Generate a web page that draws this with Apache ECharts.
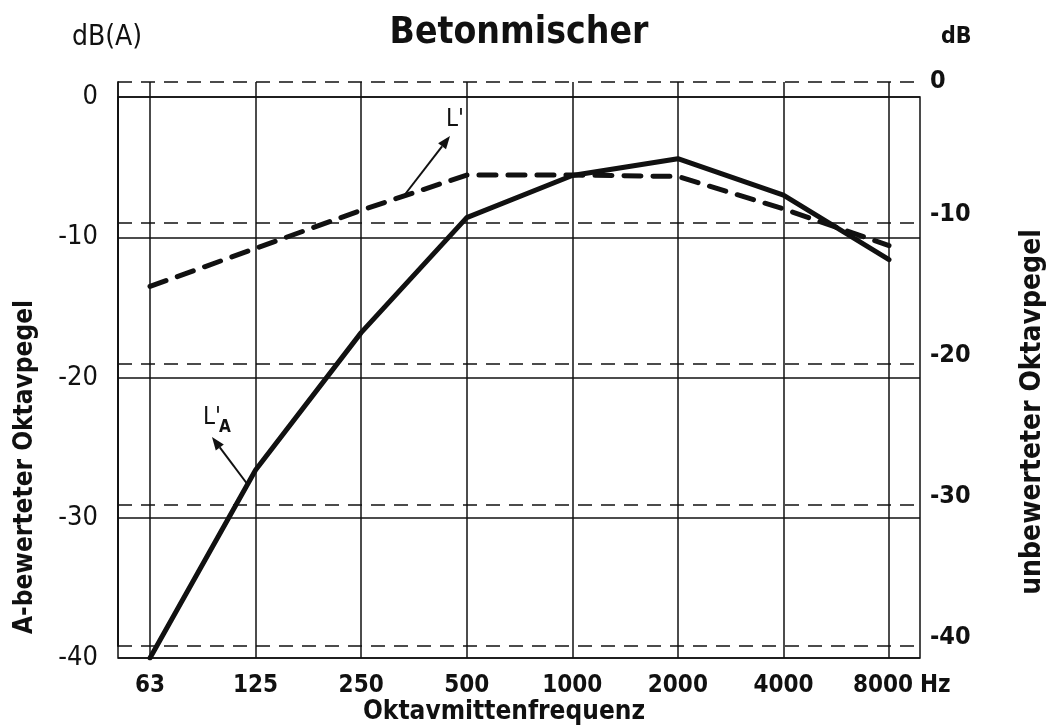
<!DOCTYPE html>
<html>
<head>
<meta charset="utf-8">
<script src="https://cdn.jsdelivr.net/npm/echarts@6/dist/echarts.min.js"></script>
<style>
  html, body { margin: 0; padding: 0; background: #fff; }
  #chart { width: 1059px; height: 728px; }
</style>
</head>
<body>
<div id="chart"></div>
<script>
// Oktavmittenfrequenz (Hz)
const categories = ['63', '125', '250', '500', '1000', '2000', '4000', '8000']
// L'A, A-bewerteter Oktavpegel, dB(A) (linke Achse)
const laValues = [-40, -26.6, -16.8, -8.6, -5.6, -4.4, -7.0, -11.6]
// L', unbewerteter Oktavpegel, dB (rechte Achse)
const lValues = [-14.5, -11.8, -9.1, -6.6, -6.6, -6.7, -9.0, -11.6]

const FONT = "'DejaVu Sans Condensed', 'Liberation Sans Narrow', 'DejaVu Sans', sans-serif"
const INK = '#111'

const chart = echarts.init(document.getElementById('chart'))

// Rahmen / Skalen
const FRAME_L = 118, FRAME_R = 139          // Rahmen links/rechts
const CAT_L = 150, CAT_R = 170              // erste / letzte Frequenz
const LEFT_TOP = 97, LEFT_BOTTOM = 70       // dB(A): 0 .. -40
const RIGHT_TOP = 82, RIGHT_BOTTOM = 82     // dB: 0 .. -40

const hiddenCat = (grid) => ({
  type: 'category', gridIndex: grid, data: categories, boundaryGap: false,
  axisLine: { show: false }, axisTick: { show: false }, axisLabel: { show: false },
  splitLine: { show: false }
})
const hiddenVal = (grid) => ({
  type: 'value', gridIndex: grid, min: 0, max: 1, show: false
})

// Pfeil als Linie + Spitze
const arrow = (x1, y1, x2, y2) => {
  const a = Math.atan2(y2 - y1, x2 - x1)
  const len = 13, w = 5
  const bx = x2 - len * Math.cos(a), by = y2 - len * Math.sin(a)
  const px = -Math.sin(a) * w, py = Math.cos(a) * w
  return [
    { type: 'line', shape: { x1, y1, x2: bx, y2: by }, style: { stroke: INK, lineWidth: 2 } },
    { type: 'polygon', shape: { points: [[x2, y2], [bx + px, by + py], [bx - px, by - py]] }, style: { fill: INK } }
  ]
}

const txt = (x, y, text, size, bold, extra) => Object.assign({
  type: 'text', x, y,
  style: { text, fontSize: size, fontWeight: bold ? 'bold' : 'normal', fontFamily: FONT, fill: INK, textAlign: 'left', textVerticalAlign: 'middle' }
}, extra || {})

const option = {
  animation: false,
  backgroundColor: '#fff',
  textStyle: { fontFamily: FONT, color: INK },
  grid: [
    // 0: linke Skala, durchgezogene Linien
    { left: FRAME_L, right: FRAME_R, top: LEFT_TOP, bottom: LEFT_BOTTOM, show: true, borderColor: INK, borderWidth: 1.5, outerBoundsMode: 'none' },
    // 1: rechte Skala, gestrichelte Linien
    { left: FRAME_L, right: FRAME_R, top: RIGHT_TOP, bottom: RIGHT_BOTTOM, outerBoundsMode: 'none' },
    // 2: senkrechte Linien + Frequenzbeschriftung
    { left: CAT_L, right: CAT_R, top: RIGHT_TOP, bottom: LEFT_BOTTOM, outerBoundsMode: 'none' },
    // 3: L'A auf linker Skala
    { left: CAT_L, right: CAT_R, top: LEFT_TOP, bottom: LEFT_BOTTOM, outerBoundsMode: 'none' },
    // 4: L' auf rechter Skala
    { left: CAT_L, right: CAT_R, top: RIGHT_TOP, bottom: RIGHT_BOTTOM, outerBoundsMode: 'none' }
  ],
  xAxis: [
    hiddenVal(0),
    hiddenVal(1),
    {
      type: 'category', gridIndex: 2, data: categories, boundaryGap: false,
      axisLine: { show: false }, axisTick: { show: false },
      axisLabel: {
        show: true, margin: 16, fontSize: 24, fontWeight: 'bold', color: INK, fontFamily: FONT, interval: 0,
        // letzte Beschriftung etwas nach links, Platz für "Hz"
        formatter: (v) => v === '8000' ? '{l|' + v + '}' : v,
        rich: { l: { fontSize: 24, fontWeight: 'bold', fontFamily: FONT, color: INK, padding: [0, 12, 0, 0] } }
      },
      splitLine: { show: true, lineStyle: { color: INK, width: 1.5, type: 'solid' } }
    },
    hiddenCat(3),
    hiddenCat(4)
  ],
  yAxis: [
    {
      type: 'value', gridIndex: 0, position: 'left', min: -40, max: 0, interval: 10,
      axisLine: { show: false }, axisTick: { show: false },
      axisLabel: { margin: 20, fontSize: 27, color: INK, fontFamily: FONT, formatter: v => String(v) },
      splitLine: { show: true, lineStyle: { color: INK, width: 1.5, type: 'solid' } }
    },
    {
      type: 'value', gridIndex: 1, position: 'right', min: -40, max: 0, interval: 10,
      axisLine: { show: true, lineStyle: { color: INK, width: 1.5 } }, axisTick: { show: false },
      axisLabel: {
        margin: 10, fontSize: 25, fontWeight: 'bold', color: INK, fontFamily: FONT,
        verticalAlign: 'bottom', lineHeight: 18,
        // "0" sitzt mittig auf der Linie, die übrigen Werte etwas darüber
        formatter: v => v === 0 ? '{z|0}' : String(v),
        rich: { z: { fontSize: 25, fontWeight: 'bold', fontFamily: FONT, color: INK, lineHeight: 2 } }
      },
      splitLine: { show: true, lineStyle: { color: INK, width: 1.6, type: [14, 9] } }
    },
    {
      type: 'value', gridIndex: 1, position: 'left', min: -40, max: 0,
      axisLine: { show: true, lineStyle: { color: INK, width: 1.5 } },
      axisTick: { show: false }, axisLabel: { show: false }, splitLine: { show: false }
    },
    hiddenVal(2),
    { type: 'value', gridIndex: 3, min: -40, max: 0, show: false },
    { type: 'value', gridIndex: 4, min: -40, max: 0, show: false }
  ],
  series: [
    {
      name: "L'A", type: 'line', xAxisIndex: 3, yAxisIndex: 4, data: laValues,
      symbol: 'none', lineStyle: { color: INK, width: 5, cap: 'round', join: 'round' }
    },
    {
      name: "L'", type: 'line', xAxisIndex: 4, yAxisIndex: 5, data: lValues,
      symbol: 'none', lineStyle: { color: INK, width: 5, type: [17, 12], cap: 'round', join: 'round' }
    }
  ],
  graphic: [
    txt(519, 33, 'Betonmischer', 37, true, { style: { text: 'Betonmischer', fontSize: 37, fontWeight: 'bold', fontFamily: FONT, fill: INK, textAlign: 'center', textVerticalAlign: 'middle' } }),
    txt(72, 38, 'dB(A)', 28, false),
    txt(941, 37, 'dB', 23, true),
    txt(920, 686, 'Hz', 24, true),
    txt(504, 712, 'Oktavmittenfrequenz', 26, true, { style: { text: 'Oktavmittenfrequenz', fontSize: 26, fontWeight: 'bold', fontFamily: FONT, fill: INK, textAlign: 'center', textVerticalAlign: 'middle' } }),
    txt(25, 467, '', 0, false, { rotation: Math.PI / 2, style: { text: 'A-bewerteter Oktavpegel', fontSize: 26, fontWeight: 'bold', fontFamily: FONT, fill: INK, textAlign: 'center', textVerticalAlign: 'middle' } }),
    txt(1033, 412, '', 0, false, { rotation: Math.PI / 2, style: { text: 'unbewerteter Oktavpegel', fontSize: 28, fontWeight: 'bold', fontFamily: FONT, fill: INK, textAlign: 'center', textVerticalAlign: 'middle' } }),
    // Kurvenbezeichnungen
    txt(446, 120, "L'", 24, false),
    ...arrow(403, 197, 450, 136),
    txt(203, 418, "L'", 24, false),
    txt(219, 428, 'A', 17, true),
    ...arrow(248, 485, 212, 437)
  ]
}

chart.setOption(option)
</script>
</body>
</html>
